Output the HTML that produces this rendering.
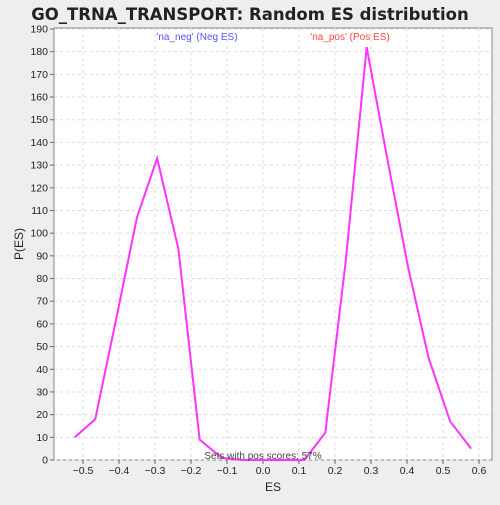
<!DOCTYPE html>
<html><head><meta charset="utf-8"><style>
body{margin:0;background:#eeeeee;width:500px;height:500px;overflow:hidden;font-family:"Liberation Sans","DejaVu Sans",sans-serif}
</style></head><body>
<svg id="chart" width="500" height="500" xmlns="http://www.w3.org/2000/svg">
<text x="250" y="20" text-anchor="middle" font-size="16.5" font-weight="bold" fill="#222" font-family="DejaVu Sans, sans-serif">GO_TRNA_TRANSPORT: Random ES distribution</text>
<rect x="54" y="28" width="438" height="432" fill="#fff" stroke="#888"/>
<g id="grid"></g><g id="axes"></g>
<text x="197" y="40" text-anchor="middle" font-size="10" fill="#5555ff">'na_neg' (Neg ES)</text>
<text x="350" y="40" text-anchor="middle" font-size="10" fill="#ff4444">'na_pos' (Pos ES)</text>
<polyline id="line" fill="none" stroke="#ff33ff" stroke-width="2"/>
<text x="263" y="459" text-anchor="middle" font-size="10" fill="#444">Sets with pos scores: 57%</text>
<text x="273" y="491" text-anchor="middle" font-size="12" fill="#222">ES</text>
<text transform="translate(23,244) rotate(-90)" text-anchor="middle" font-size="12" fill="#222">P(ES)</text>
</svg>
<script>
const esValues=[-0.523,-0.466,-0.408,-0.35,-0.294,-0.235,-0.176,-0.115,-0.06,0,0.06,0.115,0.173,0.23,0.288,0.345,0.403,0.46,0.52,0.578];
const probValues=[10,18,62,107,133,93,9,1,0,0,0,0,12,88,182,133,85,45,17,5];
const xTicks=[-0.5,-0.4,-0.3,-0.2,-0.1,0,0.1,0.2,0.3,0.4,0.5,0.6];
const yTicks=[0,10,20,30,40,50,60,70,80,90,100,110,120,130,140,150,160,170,180,190];
const X=v=>263+v*360, Y=v=>460-v*(431/190);
const ns="http://www.w3.org/2000/svg";
const grid=document.getElementById('grid'), axes=document.getElementById('axes');
function mk(t,a,p){const e=document.createElementNS(ns,t);for(const k in a)e.setAttribute(k,a[k]);p.appendChild(e);return e;}
xTicks.forEach(t=>{const x=X(t);
 const g=mk('line',{x1:x,x2:x,y1:28,y2:460,stroke:'#ddd','stroke-dasharray':'3,3'},grid);
 
 
 const tk=mk('line',{x1:x,x2:x,y1:460,y2:464,stroke:'#666'},axes);
 
 
 const l=mk('text',{x:x,y:474,'text-anchor':'middle','font-size':10.5,fill:'#222'},axes);
 
 
 l.textContent=(t<0?'\u2212':'')+Math.abs(t).toFixed(1);});
yTicks.forEach(t=>{const y=Y(t);
 const g=mk('line',{x1:54,x2:492,y1:y,y2:y,stroke:'#ddd','stroke-dasharray':'3,3'},grid);
 
 
 const tk=mk('line',{x1:50,x2:54,y1:y,y2:y,stroke:'#666'},axes);
 
 
 const l=mk('text',{x:48,y:y+3.5,'text-anchor':'end','font-size':10.5,fill:'#222'},axes);
 
 
 l.textContent=t;});
document.getElementById('line').setAttribute('points',esValues.map((v,i)=>X(v)+','+Y(probValues[i])).join(' '));
</script>
</body></html>
